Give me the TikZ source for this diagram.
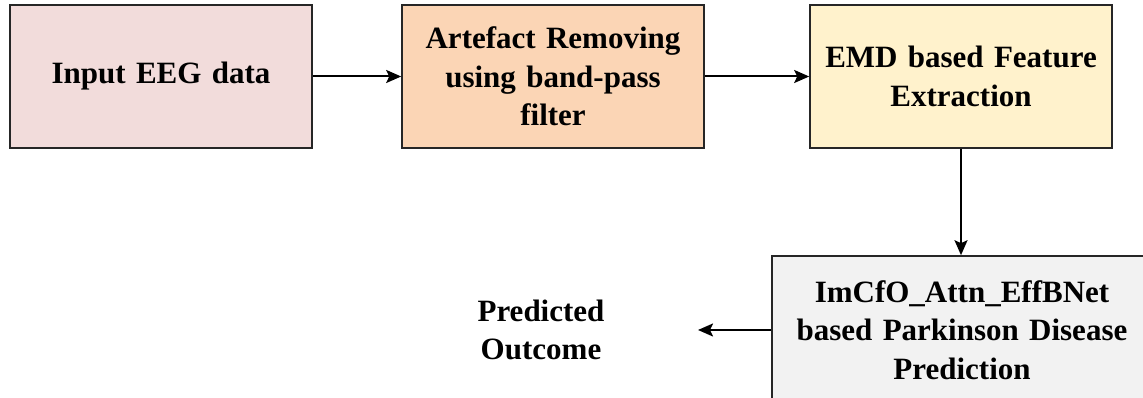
\documentclass[tikz,border=0pt]{standalone}
\usepackage{fontspec}
\setmainfont{Liberation Serif}
\usetikzlibrary{arrows.meta}
\definecolor{c1}{RGB}{242,220,219}
\definecolor{c2}{RGB}{251,213,181}
\definecolor{c3}{RGB}{255,242,204}
\definecolor{c4}{RGB}{242,242,242}
\begin{document}
\begin{tikzpicture}[x=1pt,y=1pt,
  box/.style={draw=black!85, line width=1.6pt, minimum width=302pt, minimum height=143pt, inner sep=0pt, align=center, font=\fontsize{31}{38.5}\selectfont\bfseries, text width=290pt},
  lbl/.style={align=center, font=\fontsize{31}{38.5}\selectfont\bfseries},
  arr/.style={line width=2pt, -{Stealth[length=15pt,width=13pt,inset=3pt]}}]
\useasboundingbox (0,0) rectangle (1143,398);
\node[box, fill=c1] (a) at (161,321.5) {Input EEG data};
\node[box, fill=c2] (b) at (553,321.5) {Artefact Removing\\using band-pass\\filter};
\node[box, fill=c3] (c) at (961,321.5) {EMD based Feature\\Extraction};
\node[box, fill=c4, minimum width=380pt, minimum height=148pt, text width=370pt] (d) at (962,68) {ImCfO\_Attn\_EffBNet\\based Parkinson Disease\\Prediction};
\node[lbl] (p) at (541,68) {Predicted\\Outcome};
\coordinate (pe) at (698,68);
\draw[arr] (a) -- (b);
\draw[arr] (b) -- (c);
\draw[arr] (c.south) -- (c.south |- d.north);
\draw[arr] (d.west) -- (pe);
\end{tikzpicture}
\end{document}
